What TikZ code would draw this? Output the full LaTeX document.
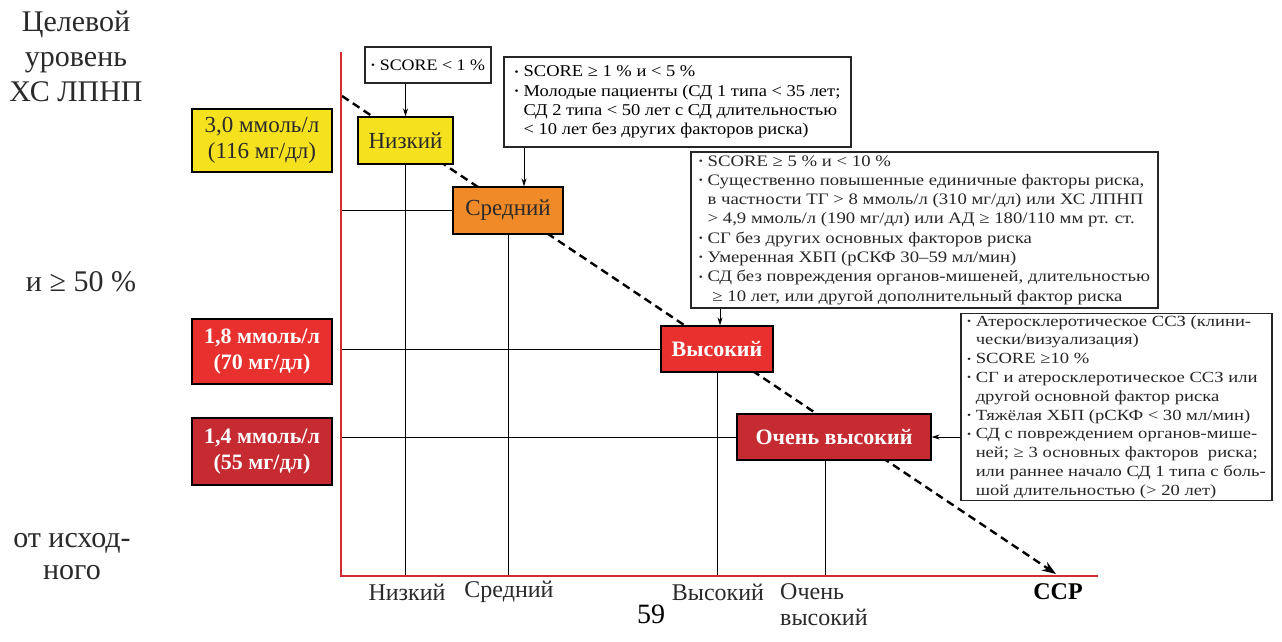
\documentclass[tikz,border=0pt]{standalone}
\usepackage{fontspec}
\setmainfont{Liberation Serif}
\newfontfamily\widea[FakeStretch=1.12]{Liberation Serif}
\newfontfamily\wideb[FakeStretch=1.17]{Liberation Serif}
\newfontfamily\widec[FakeStretch=1.2]{Liberation Serif}
\usepackage{graphicx}
\usetikzlibrary{arrows.meta}

\definecolor{lowyel}{HTML}{F6E11E}
\definecolor{midorg}{HTML}{F08A28}
\definecolor{highred}{HTML}{E8302F}
\definecolor{vhighred}{HTML}{C62B32}
\definecolor{axisred}{HTML}{D42A30}
\definecolor{txtgray}{HTML}{2A2A2A}

% list bullet and continuation indent
\newcommand\bul{\makebox[0.55em][l]{\raisebox{0.22ex}{\scalebox{0.62}{•}}}}
\newcommand\ind{\hspace*{0.55em}}

\begin{document}
\begin{tikzpicture}[x=1pt,y=-1pt,
  sidetext/.style={text=txtgray, align=center, font=\fontsize{30}{35}\selectfont, inner sep=0pt},
  axislabel/.style={text=txtgray, font=\fontsize{24}{26}\selectfont, inner sep=0pt},
  riskbox/.style={draw=black, line width=1.3pt, inner sep=0pt, align=center},
  lightbox/.style={riskbox, text=txtgray, font=\fontsize{23}{26}\selectfont},
  darkbox/.style={riskbox, text=white, font=\bfseries\fontsize{22}{26}\selectfont},
  infobox/.style={draw=black!85, line width=1.1pt, inner sep=0pt, align=left, fill=white},
  conn/.style={draw=black, line width=0.8pt},
  pointer/.style={conn, -{Stealth[length=8pt,width=5pt]}},
  trend/.style={draw=black, line width=2.4pt, dash pattern=on 8pt off 5pt, -{Stealth[length=14pt,width=10pt]}},
  axis/.style={draw=axisred, line width=2.8pt}
]
\useasboundingbox (0,0) rectangle (1282,641);
\fill[white] (0,0) rectangle (1282,641);

% axes anchor points
\coordinate (O) at (341,576);
\coordinate (ytop) at (341,52);
\coordinate (xend) at (1098,576);
\coordinate (tstart) at (342,96);
\coordinate (tend) at (1056,574);

% left-hand captions
\node[sidetext] (cap1) at (76,56) {Целевой\\уровень\\ХС ЛПНП};
\node[sidetext] (cap2) at (81,282) {и ≥ 50 \%};
\node[sidetext, font=\fontsize{30}{32}\selectfont] (cap3) at (72,557) {от исход-\\ного};

% target LDL levels
\node[lightbox, fill=lowyel, minimum width=140pt, minimum height=63pt] (lv1) at (262,140.5) {3,0 ммоль/л\\(116 мг/дл)};
\node[darkbox, fill=highred, minimum width=140pt, minimum height=65pt] (lv2) at (262,351.5) {1,8 ммоль/л\\(70 мг/дл)};
\node[darkbox, fill=vhighred, minimum width=140pt, minimum height=67pt] (lv3) at (262,451.5) {1,4 ммоль/л\\(55 мг/дл)};

% trend line
\draw[trend] (tstart) -- (tend);

% risk categories
\node[lightbox, fill=lowyel, minimum width=95pt, minimum height=47pt] (low) at (405.5,140.5) {Низкий};
\node[lightbox, fill=midorg, minimum width=110pt, minimum height=47pt] (mid) at (508,210.5) {Средний};
\node[darkbox, fill=highred, minimum width=112pt, minimum height=46pt] (high) at (717,349) {Высокий};
\node[darkbox, fill=vhighred, minimum width=194pt, minimum height=46pt] (vhigh) at (834,437) {Очень высокий};

% grid lines
\draw[conn] (low.south) -- (low.south |- O);
\draw[conn] (mid.south) -- (mid.south |- O);
\draw[conn] (high.south) -- (high.south |- O);
\draw[conn] ([xshift=-9pt]vhigh.south) -- ([xshift=-9pt]vhigh.south |- O);
\draw[conn] (mid.west) -- (mid.west -| O);
\draw[conn] (high.west) -- (high.west -| O);
\draw[conn] (vhigh.west) -- (vhigh.west -| O);

% axes
\draw[axis] (ytop) -- (O) -- (xend);

% axis labels
\node[axislabel] (xl1) at (407,592) {Низкий};
\node[axislabel] (xl2) at (509,592) {Средний};
\node[axislabel] (xl3) at (718,592) {Высокий};
\node[axislabel, align=left, anchor=west] (xl4) at (780,605) {Очень\\высокий};
\node[axislabel, font=\bfseries\fontsize{24}{26}\selectfont, text=black] (xl5) at (1058,592) {ССР};
\node[inner sep=0pt, font=\fontsize{28}{30}\selectfont] (pg) at (651,614) {59};

% criteria boxes
\node[infobox, minimum width=126pt, minimum height=36pt, font=\widea\fontsize{16}{19}\selectfont] (b1) at (428,65) {\bul SCORE < 1 \%};
\node[infobox, minimum width=347pt, minimum height=90pt, font=\widea\fontsize{16.5}{19.3}\selectfont] (b2) at (677.5,102)
  {\bul SCORE ≥ 1 \% и < 5 \%\\
   \bul Молодые пациенты (СД 1 типа < 35 лет;\\
   \ind СД 2 типа < 50 лет с СД длительностью\\
   \ind < 10 лет без других факторов риска)};
\node[infobox, text=black!85, minimum width=467pt, minimum height=156pt, font=\wideb\fontsize{16}{19.3}\selectfont] (b3) at (924.5,230)
  {\bul SCORE ≥ 5 \% и < 10 \%\\
   \bul Существенно повышенные единичные факторы риска,\\
   \ind в частности ТГ > 8 ммоль/л (310 мг/дл) или ХС ЛПНП\\
   \ind > 4,9 ммоль/л (190 мг/дл) или АД ≥ 180/110 мм рт. ст.\\
   \bul СГ без других основных факторов риска\\
   \bul Умеренная ХБП (рСКФ 30–59 мл/мин)\\
   \bul СД без повреждения органов-мишеней, длительностью\\
   \ind\hspace*{0.3em}≥ 10 лет, или другой дополнительный фактор риска};
\node[infobox, text=black!85, minimum width=311pt, minimum height=187pt, font=\widec\fontsize{15.5}{18.8}\selectfont] (b4) at (1116.5,407)
  {\bul Атеросклеротическое ССЗ (клини-\\
   \ind чески/визуализация)\\
   \bul SCORE ≥10 \%\\
   \bul СГ и атеросклеротическое ССЗ или\\
   \ind другой основной фактор риска\\
   \bul Тяжёлая ХБП (рСКФ < 30 мл/мин)\\
   \bul СД с повреждением органов-мише-\\
   \ind ней; ≥ 3 основных факторов\ \ риска;\\
   \ind или раннее начало СД 1 типа с боль-\\
   \ind шой длительностью (> 20 лет)};

% pointers from criteria to categories
\draw[pointer] (low.north |- b1.south) -- (low.north);
\draw[pointer] ([xshift=16pt]mid.north |- b2.south) -- ([xshift=16pt]mid.north);
\draw[pointer] ([xshift=3pt]high.north |- b3.south) -- ([xshift=3pt]high.north);
\draw[pointer] (b4.west |- vhigh.east) -- (vhigh.east);
\end{tikzpicture}
\end{document}
